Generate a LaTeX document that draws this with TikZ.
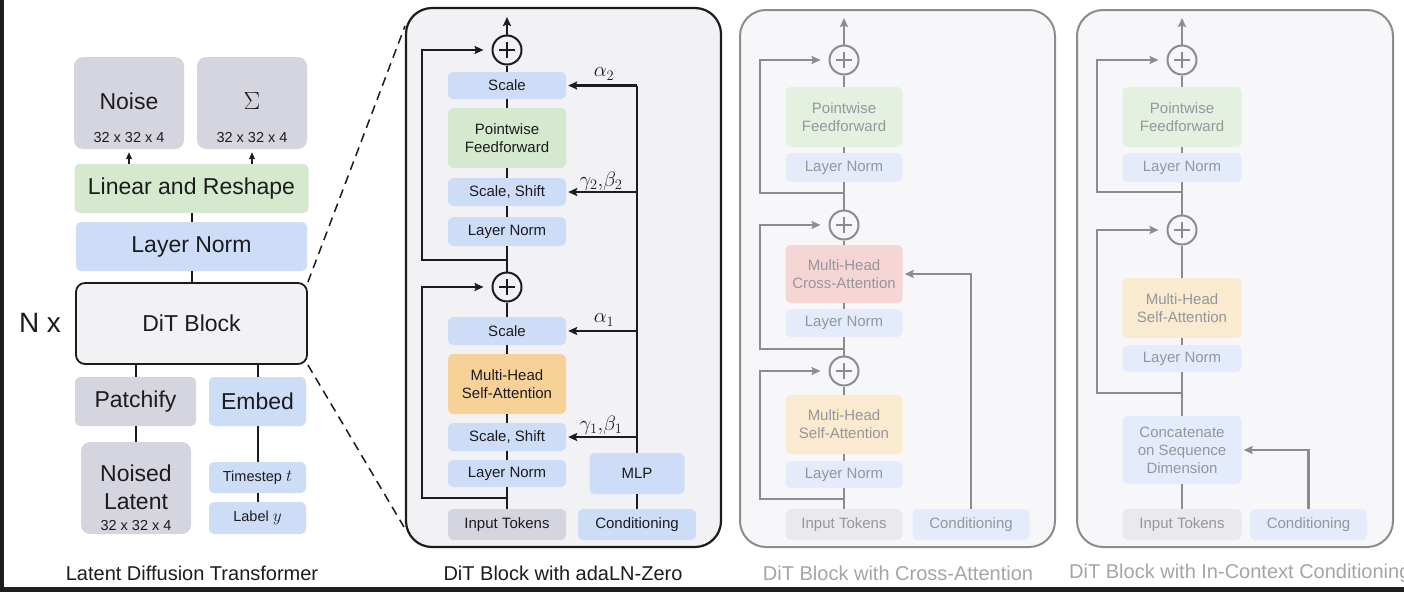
\documentclass[tikz,border=0pt]{standalone}
\usepackage{fontspec}
\setmainfont{Liberation Sans}
\usetikzlibrary{arrows.meta}
\definecolor{ink}{RGB}{28,28,30}
\definecolor{gbox}{RGB}{213,213,224}
\definecolor{bbox}{RGB}{205,220,247}
\definecolor{grbox}{RGB}{212,233,205}
\definecolor{obox}{RGB}{246,210,152}
\definecolor{dfill}{RGB}{242,242,244}
\definecolor{pfill}{RGB}{247,247,249}
\definecolor{fline}{RGB}{140,140,142}
\definecolor{ftext}{RGB}{150,150,156}
\definecolor{fcap}{RGB}{165,165,168}
\definecolor{fgbox}{RGB}{233,233,238}
\definecolor{fbbox}{RGB}{228,235,250}
\definecolor{fgrbox}{RGB}{228,240,224}
\definecolor{fobox}{RGB}{250,234,208}
\definecolor{frbox}{RGB}{246,214,212}
\definecolor{darkedge}{RGB}{30,30,30}
\newcommand{\myfs}[2]{\fontsize{#1}{#2}\selectfont}
\begin{document}
\begin{tikzpicture}[x=1pt,y=-1pt,
  box/.style={rectangle, rounded corners=5pt, inner sep=0pt, align=center, text=ink},
  fbox/.style={rectangle, rounded corners=5pt, inner sep=0pt, align=center, text=ftext, font=\myfs{15}{18}},
  big/.style={rounded corners=9pt},
  sz/.style 2 args={minimum width=#1pt, minimum height=#2pt},
  lbl/.style={inner sep=0pt, text=ink},
  f23/.style={font=\myfs{23}{27}},
  f15/.style={font=\myfs{15}{18}},
  f14/.style={font=\myfs{14.5}{17}},
  f20/.style={font=\myfs{20}{24}},
  gk/.style={font=\myfs{22}{24}},
  lline/.style={draw=ink, line width=2pt},
  mline/.style={draw=ink, line width=2.2pt},
  fl/.style={draw=fline, line width=2.2pt},
  arr/.style={-{Stealth[length=9pt,width=8pt,inset=1.5pt]}},
  sarr/.style={-{Stealth[length=7pt,width=6pt,inset=1pt]}},
  dashline/.style={draw=ink, line width=1.5pt, dash pattern=on 9pt off 6pt},
  plusnode/.style={circle, draw=#1, line width=2pt, minimum size=29pt, inner sep=0pt,
    path picture={\draw[#1, line width=2pt]
      ([xshift=-8pt]path picture bounding box.center) -- ([xshift=8pt]path picture bounding box.center)
      ([yshift=-8pt]path picture bounding box.center) -- ([yshift=8pt]path picture bounding box.center);}},
  panel/.style={rectangle, rounded corners=26pt, inner sep=0pt}
]
\fill[white] (0,0) rectangle (1404,592);
\useasboundingbox (0,0) rectangle (1404,592);
\clip (0,0) rectangle (1404,592);
\fill[darkedge] (0,0) rectangle (3.5,592);
\fill[darkedge] (0,587) rectangle (1404,592);

% ================= left panel =================
\node[box, big, fill=gbox, sz={110}{92}] (noise) at (129,103) {};
\node[lbl, f23] (noiset) at (129,101) {Noise};
\node[lbl, f14] (noisedim) at (129,138) {32 x 32 x 4};
\node[box, big, fill=gbox, sz={110}{92}] (sigma) at (252,103) {};
\node[lbl, font=\myfs{32}{34}] (sigt) at (252,101) {$\Sigma$};
\node[lbl, f14] (sigdim) at (252,138) {32 x 32 x 4};
\node[box, fill=grbox, sz={234}{49}, f23] (linear) at (191.5,188.5) {Linear and Reshape};
\node[box, fill=bbox, sz={231}{49}, f23] (lnL) at (191.5,246.5) {Layer Norm};
\node[box, big, draw=ink, line width=1.8pt, fill=dfill, sz={231}{81}, f23] (dit) at (191.5,323.5) {DiT Block};
\node[lbl, font=\myfs{28}{30}] (nx) at (40,323) {N x};
\node[box, fill=gbox, sz={121}{49}, f23] (patch) at (135.5,401.5) {Patchify};
\node[box, fill=bbox, sz={97}{49}, f23] (embed) at (257.5,401.5) {Embed};
\node[box, big, fill=gbox, sz={110}{92}] (noised) at (136,488) {};
\node[lbl, f23] (noisedt) at (136,473) {Noised};
\node[lbl, f23] (latentt) at (136,502) {Latent};
\node[lbl, f14] (noiseddim) at (136,525) {32 x 32 x 4};
\node[box, fill=bbox, sz={97}{31}, f14] (timestep) at (257.5,477.5) {Timestep \myfs{17}{17}$t$};
\node[box, fill=bbox, sz={97}{32}, f14] (label) at (257.5,518) {Label \myfs{17}{17}$y$};
\node[lbl, f20] (capA) at (192,573) {Latent Diffusion Transformer};

\draw[lline, sarr] (noise.south |- linear.north) -- ([yshift=-3pt]noise.south);
\draw[lline, sarr] (sigma.south |- linear.north) -- ([yshift=-3pt]sigma.south);
\draw[lline] (linear.south) -- (lnL.north);
\draw[lline] (lnL.south) -- (dit.north);
\draw[lline] (patch.north) -- (patch.north |- dit.south);
\draw[lline] (embed.north) -- (embed.north |- dit.south);
\draw[lline] (patch.south) -- (patch.south |- noised.north);
\draw[lline] (embed.south) -- (timestep.north);
\draw[lline] (timestep.south) -- (label.north);

% ================= adaLN-Zero panel =================
\node[panel, draw=ink, line width=2.2pt, fill=dfill, sz={315}{539}] (midpanel) at (563.5,277.5) {};
\coordinate (zt) at (405,26);
\coordinate (zb) at (404,527);
\draw[dashline] (dit.north east) -- (zt);
\draw[dashline] (dit.south east) -- (zb);

\node[plusnode=ink] (plusA) at (507,50) {};
\node[box, fill=bbox, sz={118}{27}, f15] (scaleA) at (507,85.5) {Scale};
\node[box, fill=grbox, sz={118}{60}, f15] (pfA) at (507,138) {Pointwise\\Feedforward};
\node[box, fill=bbox, sz={118}{28}, f15] (ssA) at (507,192) {Scale, Shift};
\node[box, fill=bbox, sz={118}{29}, f15] (lnA) at (507,231.5) {Layer Norm};
\node[plusnode=ink] (plusB) at (507,287) {};
\node[box, fill=bbox, sz={118}{28}, f15] (scaleB) at (507,331) {Scale};
\node[box, fill=obox, sz={118}{60}, f15] (mhsaB) at (507,384) {Multi-Head\\Self-Attention};
\node[box, fill=bbox, sz={118}{28}, f15] (ssB) at (507,437) {Scale, Shift};
\node[box, fill=bbox, sz={118}{27}, f15] (lnB) at (507,473.5) {Layer Norm};
\node[box, fill=gbox, sz={118}{31}, f15] (inB) at (507,524.5) {Input Tokens};
\node[box, fill=bbox, sz={118}{31}, f15] (condB) at (637,524.5) {Conditioning};
\node[box, fill=bbox, sz={95}{41}, f15] (mlpB) at (637,473.5) {MLP};
\node[lbl, gk] (a2) at (604,74) {$\alpha_2$};
\node[lbl, gk] (gb2) at (601,181) {$\gamma_2{,}\beta_2$};
\node[lbl, gk] (a1) at (604,320) {$\alpha_1$};
\node[lbl, gk] (gb1) at (601,425) {$\gamma_1{,}\beta_1$};
\node[lbl, f20] (capB) at (563,573) {DiT Block with adaLN-Zero};

\coordinate (outA) at (507,17);
\coordinate (jA) at (507,260);
\coordinate (skA) at (422,260);
\coordinate (jB) at (507,498);
\coordinate (skB) at (422,498);
\coordinate (ctop) at (637,85.5);

\draw[mline, arr] (plusA.north) -- (outA);
\draw[mline] (scaleA.north) -- (plusA.south);
\draw[mline] (pfA.north) -- (scaleA.south);
\draw[mline] (ssA.north) -- (pfA.south);
\draw[mline] (lnA.north) -- (ssA.south);
\draw[mline] (lnA.south) -- (plusB.north);
\draw[mline] (plusB.south) -- (scaleB.north);
\draw[mline] (mhsaB.north) -- (scaleB.south);
\draw[mline] (ssB.north) -- (mhsaB.south);
\draw[mline] (lnB.north) -- (ssB.south);
\draw[mline] (lnB.south) -- (inB.north);
\draw[mline, arr, shorten >=8pt] (jA) -- (skA) |- (plusA.west);
\draw[mline, arr, shorten >=8pt] (jB) -- (skB) |- (plusB.west);
\draw[mline] (condB.north) -- (mlpB.south);
\draw[mline] (mlpB.north) -- (ctop);
\draw[mline, arr, shorten >=2pt] (ctop) -- (scaleA.east);
\draw[mline, arr, shorten >=2pt] (ctop |- ssA.east) -- (ssA.east);
\draw[mline, arr, shorten >=2pt] (ctop |- scaleB.east) -- (scaleB.east);
\draw[mline, arr, shorten >=2pt] (ctop |- ssB.east) -- (ssB.east);

% ================= cross-attention panel =================
\node[panel, draw=fline, line width=2pt, fill=pfill, sz={315}{537}] (crosspanel) at (897.5,278.5) {};
\node[plusnode=fline] (plusC1) at (844,60) {};
\node[fbox, fill=fgrbox, sz={117}{60}] (pfC) at (844,117) {Pointwise\\Feedforward};
\node[fbox, fill=fbbox, sz={117}{29}] (lnC1) at (844,167.5) {Layer Norm};
\node[plusnode=fline] (plusC2) at (844,225) {};
\node[fbox, fill=frbox, sz={117}{58}] (mhcaC) at (844,274) {Multi-Head\\Cross-Attention};
\node[fbox, fill=fbbox, sz={117}{28}] (lnC2) at (844,323) {Layer Norm};
\node[plusnode=fline] (plusC3) at (844,371) {};
\node[fbox, fill=fobox, sz={117}{59}] (mhsaC) at (844,424.5) {Multi-Head\\Self-Attention};
\node[fbox, fill=fbbox, sz={117}{27}] (lnC3) at (844,474.5) {Layer Norm};
\node[fbox, fill=fgbox, sz={117}{31}] (inC) at (844,524.5) {Input Tokens};
\node[fbox, fill=fbbox, sz={117}{31}] (condC) at (971,524.5) {Conditioning};
\node[lbl, f20, text=fcap] (capC) at (898,573) {DiT Block with Cross-Attention};

\coordinate (outC) at (844,18);
\coordinate (jC1) at (844,193);
\coordinate (skC1) at (760,193);
\coordinate (jC2) at (844,349);
\coordinate (skC2) at (760,349);
\coordinate (jC3) at (844,499);
\coordinate (skC3) at (760,499);
\coordinate (cC) at (971,274);

\draw[fl, arr] (plusC1.north) -- (outC);
\draw[fl] (plusC1.south) -- (pfC.north);
\draw[fl] (pfC.south) -- (lnC1.north);
\draw[fl] (lnC1.south) -- (plusC2.north);
\draw[fl] (plusC2.south) -- (mhcaC.north);
\draw[fl] (mhcaC.south) -- (lnC2.north);
\draw[fl] (lnC2.south) -- (plusC3.north);
\draw[fl] (plusC3.south) -- (mhsaC.north);
\draw[fl] (mhsaC.south) -- (lnC3.north);
\draw[fl] (lnC3.south) -- (inC.north);
\draw[fl, arr, shorten >=8pt] (jC1) -- (skC1) |- (plusC1.west);
\draw[fl, arr, shorten >=8pt] (jC2) -- (skC2) |- (plusC2.west);
\draw[fl, arr, shorten >=8pt] (jC3) -- (skC3) |- (plusC3.west);
\draw[fl, arr, shorten >=2pt] (condC.north) -- (cC) -- (mhcaC.east);

% ================= in-context panel =================
\node[panel, draw=fline, line width=2pt, fill=pfill, sz={316}{537}] (ctxpanel) at (1235,278.5) {};
\node[plusnode=fline] (plusD1) at (1182,60) {};
\node[fbox, fill=fgrbox, sz={119}{60}] (pfD) at (1182,117) {Pointwise\\Feedforward};
\node[fbox, fill=fbbox, sz={119}{29}] (lnD1) at (1182,167.5) {Layer Norm};
\node[plusnode=fline] (plusD2) at (1182,230) {};
\node[fbox, fill=fobox, sz={119}{60}] (mhsaD) at (1182,308) {Multi-Head\\Self-Attention};
\node[fbox, fill=fbbox, sz={119}{27}] (lnD2) at (1182,358.5) {Layer Norm};
\node[fbox, fill=fbbox, sz={119}{68}] (concatD) at (1182,450) {Concatenate\\on Sequence\\Dimension};
\node[fbox, fill=fgbox, sz={119}{31}] (inD) at (1182,524.5) {Input Tokens};
\node[fbox, fill=fbbox, sz={117}{31}] (condD) at (1308.5,524.5) {Conditioning};
\node[lbl, f20, text=fcap, anchor=west] (capD) at (1069,573) {DiT Block with In-Context Conditioning};

\coordinate (outD) at (1182,18);
\coordinate (jD1) at (1182,192);
\coordinate (skD1) at (1097,192);
\coordinate (jD2) at (1182,393);
\coordinate (skD2) at (1097,393);
\coordinate (cD) at (1308.5,450);

\draw[fl, arr] (plusD1.north) -- (outD);
\draw[fl] (plusD1.south) -- (pfD.north);
\draw[fl] (pfD.south) -- (lnD1.north);
\draw[fl] (lnD1.south) -- (plusD2.north);
\draw[fl] (plusD2.south) -- (mhsaD.north);
\draw[fl] (mhsaD.south) -- (lnD2.north);
\draw[fl] (lnD2.south) -- (concatD.north);
\draw[fl] (concatD.south) -- (inD.north);
\draw[fl, arr, shorten >=8pt] (jD1) -- (skD1) |- (plusD1.west);
\draw[fl, arr, shorten >=8pt] (jD2) -- (skD2) |- (plusD2.west);
\draw[fl, arr, shorten >=2pt] (condD.north) -- (cD) -- (concatD.east);
\end{tikzpicture}
\end{document}
